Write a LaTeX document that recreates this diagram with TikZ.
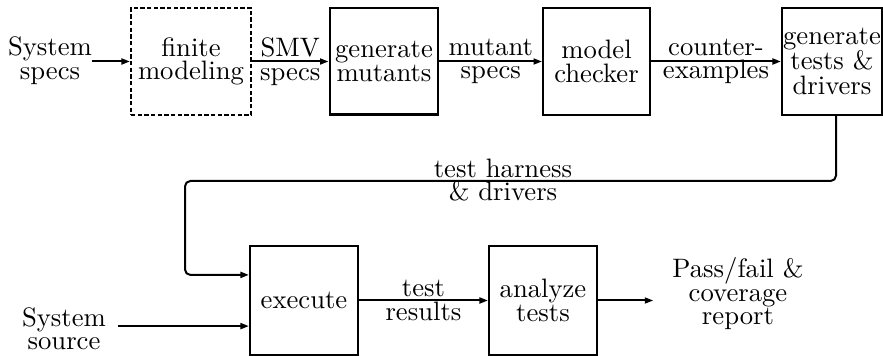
\documentclass[tikz,border=0pt]{standalone}
\usetikzlibrary{arrows.meta}
\begin{document}
\begin{tikzpicture}[x=0.375pt,y=-0.375pt,
  font=\fontsize{10}{8.8}\selectfont,
  box/.style={draw, line width=0.75pt, inner sep=0pt, align=center, minimum height=40.1pt},
  txt/.style={inner sep=0pt, align=center},
  lbl/.style={inner sep=0pt, align=center},
  arr/.style={line width=0.75pt, -{Triangle[length=3.2pt,width=2.2pt]}}]
\useasboundingbox (0,0) rectangle (883,356);
% top row
\node[txt] (ss) at (50,60.5) {System\\specs};
\node[box, dash pattern=on 1.6pt off 0.9pt, minimum width=45pt] (fm) at (191,61.5) {finite\\modeling};
\node[box, line width=1.1pt, minimum width=40.5pt] (gm) at (384,61.5) {generate\\mutants};
\node[box, minimum width=40.1pt] (mc) at (596.5,61.5) {model\\checker};
\node[box, minimum width=37.5pt, font=\fontsize{10}{9.4}\selectfont] (gt) at (832,61.5) {generate\\tests \&\\drivers};
% bottom row
\node[box, minimum width=40.5pt, minimum height=40.9pt] (ex) at (304,300.5) {execute};
\node[box, minimum width=40.5pt, minimum height=40.9pt] (an) at (543,300.5) {analyze\\tests};
\node[txt] (src) at (64,328.5) {System\\source};
\node[txt] (pf) at (738,294) {Pass/fail \&\\coverage\\report};
\coordinate (exin1) at ([yshift=9.6pt]ex.west);
\coordinate (exin2) at ([yshift=-9.6pt]ex.west);
% connectors top row
\draw[arr] (ss.east |- fm.west) -- (fm.west);
\draw[arr] (fm.east) -- node[lbl] (l1) {SMV\\specs} (gm.west);
\draw[arr] (gm.east) -- node[lbl] (l2) {mutant\\specs} (mc.west);
\draw[arr] (mc.east) -- node[lbl] (l3) {counter-\\examples} (gt.west);
% loop
\coordinate (lp) at (185,181);
\draw[arr, rounded corners=2pt] ([xshift=1.5pt]gt.south) |- (lp) |- (exin1);
\node[lbl] (l4) at (503,180) {test harness\\\& drivers};
% bottom connectors
\draw[arr, shorten <=4.5pt] (src.east |- exin2) -- (exin2);
\draw[arr] (ex.east) -- node[lbl] (l5) {test\\results} (an.west);
\draw[arr, shorten >=7pt] (an.east) -- (an.east -| pf.west);
\end{tikzpicture}
\end{document}
